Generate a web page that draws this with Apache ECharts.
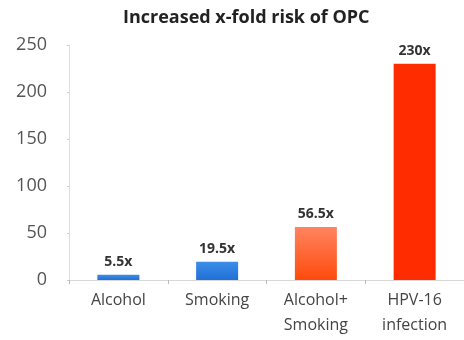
<!DOCTYPE html>
<html>
<head>
<meta charset="utf-8">
<script src="https://cdn.jsdelivr.net/npm/echarts@6/dist/echarts.min.js"></script>
<style>
html,body{margin:0;padding:0;background:#fff;}
#chart{width:464px;height:340px;}
</style>
</head>
<body>
<div id="chart"></div>
<script>
var categories=['Alcohol','Smoking','Alcohol+\nSmoking','HPV-16\ninfection'];
var values=[5.5,19.5,56.5,230];
var yTicks=[0,50,100,150,200,250];

function grad(top,bottom){
    return new echarts.graphic.LinearGradient(0,0,0,1,[
        {offset:0,color:top},
        {offset:1,color:bottom}
    ]);
}
var barColors=[                     //bar colours, left to right
    grad('#3d8ee8','#1f6fd6'),
    grad('#3d8ee8','#1f6fd6'),
    grad('#ff8460','#ff4a0c'),
    '#ff2c00'
];

window.onload=function () {
    var myChart=echarts.init(document.getElementById('chart'));
    var option={
        animation:false,
        title:{
            text:'Increased x-fold risk of OPC',
            left:118,
            top:4,
            textStyle:{fontFamily:'Open Sans',fontSize:18,fontWeight:'bold',color:'#222'}
        },
        grid:{left:69,right:-5,top:45,bottom:60},
        xAxis:{
            type:'category',
            data:categories,
            axisLine:{lineStyle:{color:'#d8d8d8'}},
            axisTick:{show:true,length:4,lineStyle:{color:'#bbb'}},
            axisLabel:{fontFamily:'Open Sans',fontSize:16,color:'#444',margin:8,lineHeight:25}
        },
        yAxis:{
            type:'value',
            min:yTicks[0],
            max:yTicks[yTicks.length-1],
            interval:50,
            axisLine:{show:true,lineStyle:{color:'#dddddd'}},
            axisTick:{show:true,length:2,lineStyle:{color:'#ccc'}},
            splitLine:{show:false},
            axisLabel:{fontFamily:'Open Sans',fontSize:18,color:'#555',margin:22}
        },
        series:[{
            type:'bar',
            barWidth:42,
            data:values.map(function (v,i) {
                return {value:v,itemStyle:{color:barColors[i]}};
            }),
            label:{
                show:true,
                position:'top',
                distance:6,
                formatter:function (p) {return p.value+'x';},
                fontFamily:'Open Sans',
                fontSize:14,
                fontWeight:'bold',
                color:'#333'
            }
        }]
    };
    myChart.setOption(option);
};
</script>
</body>
</html>
